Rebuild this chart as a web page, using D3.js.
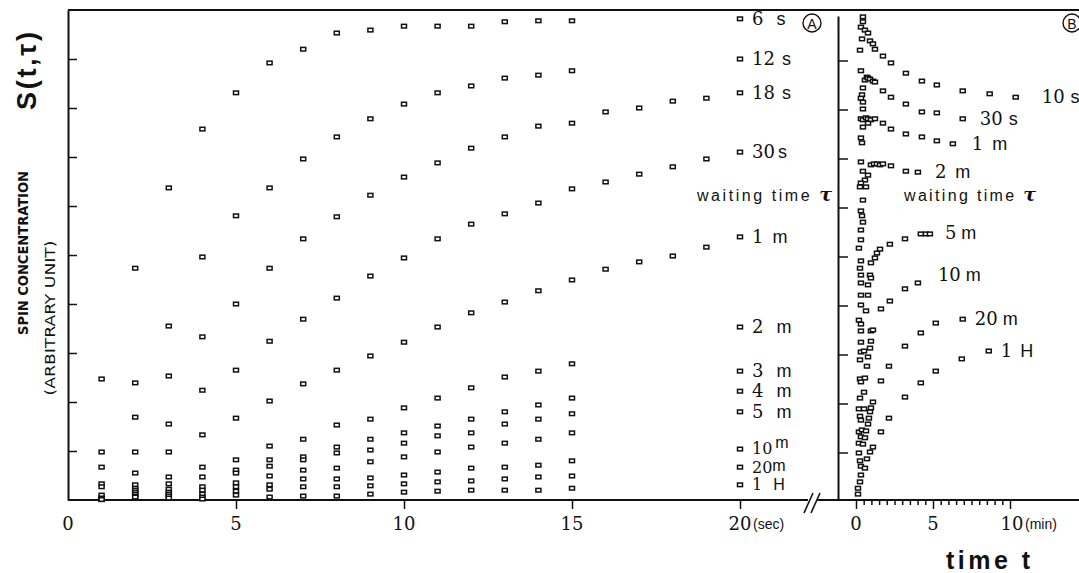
<!DOCTYPE html>
<html>
<head>
<meta charset="utf-8">
<script src="https://cdn.jsdelivr.net/npm/d3@7"></script>
<style>
  body { margin: 0; background: #fff; }
  svg { display: block; }
  .pt { fill: #fff; stroke: #111; stroke-width: 1.5; }
  .num { font-family: "DejaVu Serif", serif; fill: #111; }
  .unit { font-family: "Liberation Sans", Arial, sans-serif; fill: #111; }
</style>
</head>
<body>
<div id="chart"></div>
<script>
/**************************************************
 * Data – panel A (time in seconds, t = 1..20)
 **************************************************/
const secT = d3.range(1, 21);
const tauA = ["6 s", "12 s", "18 s", "30 s", "1 m", "2 m", "3 m", "4 m", "5 m", "10 m", "20 m", "1 H"];
const n4 = [null, null, null, null]; // no measurement between 16 and 19 s

const a6s  = [2.47, 4.73, 6.37, 7.57, 8.31, 8.92, 9.20, 9.53, 9.59, 9.67, 9.67, 9.67, 9.76, 9.78, 9.78, ...n4, 9.82];
const a12s = [0.98, 2.39, 3.55, 4.96, 5.80, 6.37, 6.96, 7.41, 7.78, 8.08, 8.31, 8.45, 8.61, 8.67, 8.76, ...n4, 9.00];
const a18s = [0.67, 1.69, 2.53, 3.33, 4.00, 4.73, 5.33, 5.78, 6.22, 6.59, 6.88, 7.18, 7.41, 7.63, 7.69, 7.92, 8.00, 8.14, 8.20, 8.31];
const a30s = [0.33, 0.98, 1.55, 2.24, 2.65, 3.24, 3.69, 4.12, 4.57, 4.94, 5.33, 5.63, 5.84, 6.06, 6.35, 6.49, 6.65, 6.80, 6.96, 7.10];
const a1m  = [0.27, 0.55, 0.98, 1.33, 1.67, 2.02, 2.37, 2.65, 2.94, 3.22, 3.53, 3.82, 4.04, 4.27, 4.49, 4.71, 4.86, 4.98, 5.16, 5.37];
const a2m  = [0.10, 0.31, 0.47, 0.67, 0.82, 1.10, 1.24, 1.53, 1.65, 1.88, 2.08, 2.29, 2.51, 2.63, 2.78, ...n4, 3.53];
const a3m  = [0.04, 0.24, 0.33, 0.47, 0.61, 0.82, 0.88, 1.08, 1.24, 1.37, 1.51, 1.65, 1.80, 1.94, 2.08, ...n4, 2.63];
const a4m  = [0.02, 0.20, 0.22, 0.27, 0.55, 0.69, 0.82, 0.96, 1.02, 1.16, 1.31, 1.37, 1.55, 1.65, 1.76, ...n4, 2.22];
const a5m  = [0.02, 0.16, 0.16, 0.20, 0.35, 0.49, 0.61, 0.65, 0.78, 0.88, 0.98, 1.08, 1.16, 1.24, 1.37, ...n4, 1.80];
const a10m = [0.01, 0.12, 0.12, 0.12, 0.27, 0.31, 0.43, 0.43, 0.45, 0.51, 0.57, 0.65, 0.67, 0.71, 0.80, ...n4, 1.04];
const a20m = [0.01, 0.08, 0.08, 0.06, 0.18, 0.22, 0.27, 0.27, 0.29, 0.33, 0.37, 0.39, 0.43, 0.47, 0.49, ...n4, 0.67];
const a1H  = [0.01, 0.06, 0.04, 0.02, 0.10, 0.06, 0.08, 0.08, 0.12, 0.16, 0.18, 0.20, 0.20, 0.20, 0.24, ...n4, 0.31];
const seriesA = [a6s, a12s, a18s, a30s, a1m, a2m, a3m, a4m, a5m, a10m, a20m, a1H];

/**************************************************
 * Data – panel B ([time in min, S])
 **************************************************/
const tauB = ["10 s", "30 s", "1 m", "2 m", "5 m", "10 m", "20 m", "1 H"];
const b10s = [[0.26, 9.18], [0.32, 9.65], [0.39, 9.41], [0.45, 9.76], [0.45, 9.86], [0.58, 9.59], [0.78, 9.53], [0.91, 9.37],
  [1.10, 9.31], [1.23, 9.20], [1.75, 9.06], [2.27, 8.92], [3.24, 8.71], [4.28, 8.55], [5.25, 8.47], [6.93, 8.35], [8.68, 8.29], [10.37, 8.22]];
const b30s = [[0.32, 8.76], [0.58, 8.57], [0.71, 8.63], [0.78, 8.61], [0.91, 8.59], [1.10, 8.55], [1.23, 8.53], [0.45, 8.41],
  [0.39, 8.27], [0.32, 8.20], [0.45, 8.12], [0.45, 7.98], [1.75, 8.35], [2.27, 8.22], [3.24, 8.08], [4.28, 7.92], [5.25, 7.90], [6.93, 7.78]];
const b1m = [[0.32, 7.78], [0.45, 7.76], [0.65, 7.80], [0.78, 7.78], [0.97, 7.76], [1.23, 7.78], [0.78, 7.69], [0.45, 7.61],
  [0.32, 7.39], [0.39, 7.29], [1.75, 7.69], [2.27, 7.57], [3.24, 7.47], [4.28, 7.41], [5.25, 7.33], [6.29, 7.27]];
const b2m = [[0.32, 6.90], [0.97, 6.84], [1.17, 6.86], [1.36, 6.86], [1.56, 6.84], [1.75, 6.86], [2.27, 6.82], [3.24, 6.71],
  [4.02, 6.69], [0.45, 6.71], [0.78, 6.63], [0.58, 6.53], [0.32, 6.47], [0.26, 6.39], [0.65, 6.39], [0.45, 6.12],
  [0.32, 5.90], [0.39, 5.80], [0.45, 5.67], [0.32, 5.51]];
const b5m = [[0.32, 5.31], [0.19, 5.14], [0.32, 4.88], [0.26, 4.73], [0.91, 4.59], [0.97, 4.53], [0.97, 4.84], [1.23, 4.94],
  [1.36, 5.04], [1.56, 5.12], [2.20, 5.22], [3.18, 5.33], [4.21, 5.43], [4.54, 5.43], [4.80, 5.43]];
const b10m = [[0.32, 4.59], [0.32, 4.43], [0.78, 4.39], [0.32, 4.18], [0.78, 4.18], [0.32, 3.98], [0.65, 3.86], [0.19, 3.67],
  [0.32, 3.59], [0.32, 3.45], [0.97, 3.45], [1.10, 3.47], [0.97, 3.24], [0.91, 3.10], [0.78, 2.92], [0.71, 2.73],
  [1.62, 3.90], [2.20, 4.06], [3.18, 4.31], [4.02, 4.43]];
const b20m = [[0.32, 3.22], [0.32, 3.02], [0.52, 3.04], [0.26, 2.86], [0.26, 2.47], [0.58, 2.49], [0.32, 2.41], [0.52, 2.20],
  [0.26, 2.08], [1.10, 2.00], [0.97, 1.88], [0.91, 1.80], [0.84, 1.67], [0.78, 1.55], [1.62, 2.43], [2.14, 2.73],
  [3.18, 3.14], [4.21, 3.41], [5.18, 3.61], [6.93, 3.69]];
const b1H = [[0.19, 1.86], [0.52, 1.86], [0.26, 1.71], [0.32, 1.63], [0.19, 1.39], [0.39, 1.43], [0.65, 1.41], [0.32, 1.29],
  [0.58, 1.27], [0.19, 1.16], [0.45, 1.14], [0.19, 0.96], [0.26, 0.80], [0.32, 0.69], [0.32, 0.51], [0.26, 0.37],
  [0.13, 0.24], [0.13, 0.12], [1.10, 1.08], [0.91, 0.98], [0.71, 0.84], [0.58, 0.65],
  [1.62, 1.39], [2.14, 1.67], [3.18, 2.10], [4.21, 2.39], [5.18, 2.63], [6.87, 2.88], [8.62, 3.04]];
const seriesB = [b10s, b30s, b1m, b2m, b5m, b10m, b20m, b1H];

/**************************************************
 * Layout
 **************************************************/
const W = 1079, H = 573;
const svg = d3.select("#chart").append("svg").attr("width", W).attr("height", H);

const xA = d3.scaleLinear().domain([0, 20]).range([68, 740]);
const xB = d3.scaleLinear().domain([0, 10]).range([856, 1010]);
const y = d3.scaleLinear().domain([0, 10]).range([500, 10]);
const yTicks = d3.range(1, 10);

const ink = "#111";
const line = (x1, y1, x2, y2, w) => svg.append("line")
  .attr("x1", x1).attr("y1", y1).attr("x2", x2).attr("y2", y2)
  .attr("stroke", ink).attr("stroke-width", w || 2);

// frame
line(68, 10, W, 10, 2);
line(xA(0), y(0), 808, y(0), 2);
line(817, y(0), W, y(0), 2);
line(804, 513, 813, 493, 1.6);
line(811, 513, 820, 493, 1.6);

// panel A axes
const yAxisA = svg.append("g").attr("transform", `translate(${xA(0)},0)`)
  .call(d3.axisRight(y).tickValues(yTicks).tickSize(9).tickFormat("").tickSizeOuter(0));
const xAxisA = svg.append("g").attr("transform", `translate(0,${y(0)})`)
  .call(d3.axisBottom(xA).tickValues([5, 10, 15, 20]).tickSize(9).tickFormat("").tickSizeOuter(0));

// panel B axes
const yAxisB = svg.append("g").attr("transform", "translate(838,0)")
  .call(d3.axisRight(y.copy().range([500, 16])).tickValues(yTicks).tickSize(10).tickFormat("").tickSizeOuter(0));
yAxisB.selectAll(".tick").attr("transform", d => `translate(0,${y(d) + 2})`);
const xAxisB = svg.append("g").attr("transform", `translate(0,${y(0)})`)
  .call(d3.axisBottom(xB).tickValues(d3.range(0, 10.01, 0.5)).tickSize(5).tickFormat("").tickSizeOuter(0));
xAxisB.selectAll(".tick line").attr("y2", d => (d % 5 === 0 ? 9 : 5));

[yAxisA, xAxisA, yAxisB, xAxisB].forEach(g => {
  g.select(".domain").attr("stroke", ink).attr("stroke-width", 2);
  g.selectAll(".tick line").attr("stroke", ink).attr("stroke-width", 1.5);
});
xAxisA.select(".domain").remove();
xAxisB.select(".domain").remove();

// tick labels
const tickLab = (x, txt, unit, ux) => {
  svg.append("text").attr("class", "num").attr("x", x).attr("y", 530)
    .attr("text-anchor", "middle").attr("font-size", 18).text(txt);
  if (unit) svg.append("text").attr("class", "unit").attr("x", ux).attr("y", 529)
    .attr("font-size", 14).text(unit);
};
[0, 5, 10, 15].forEach(v => tickLab(xA(v), v));
tickLab(xA(20), 20, "(sec)", xA(20) + 13);
[0, 5].forEach(v => tickLab(xB(v), v));
tickLab(xB(10) + 2, 10, "(min)", xB(10) + 15);

/**************************************************
 * Points
 **************************************************/
const pw = 5, ph = 3.6;
seriesA.forEach(vals => {
  svg.append("g").selectAll("rect")
    .data(vals.map((v, i) => [secT[i], v]).filter(d => d[1] !== null))
    .enter().append("rect").attr("class", "pt")
    .attr("x", d => xA(d[0]) - pw / 2).attr("y", d => y(d[1]) - ph / 2)
    .attr("width", pw).attr("height", ph);
});
seriesB.forEach(vals => {
  svg.append("g").selectAll("rect")
    .data(vals).enter().append("rect").attr("class", "pt")
    .attr("x", d => xB(d[0]) - pw / 2).attr("y", d => y(d[1]) - ph / 2)
    .attr("width", pw).attr("height", ph);
});

/**************************************************
 * Series labels
 **************************************************/
function tauLabel(x, yy, label, gap, size, rise) {
  const [num, unit] = label.split(" ");
  const t = svg.append("text").attr("x", x).attr("y", yy + size / 3).attr("font-size", size);
  t.append("tspan").attr("class", "num").text(num);
  t.append("tspan").attr("class", "unit").attr("dx", gap).attr("dy", rise || 0).text(unit);
}
const gapA = [13, 7, 7, 3, 9, 13, 13, 13, 13, 3, 0, 11];
const sizeA = [18, 18, 18, 18, 18, 18, 18, 18, 18, 16, 16, 16];
const riseA = [0, 0, 0, 0, 0, 0, 0, 0, 0, -6, -2, 0];
tauA.forEach((lab, i) => {
  const last = seriesA[i][19];
  tauLabel(xA(20) + 12, y(last), lab, gapA[i], sizeA[i], riseA[i]);
});

// panel B labels, placed after the last point of each series
const offB = [[26, 0], [17, 0], [19, 0], [17, 0], [15, -1], [20, -8], [12, 0], [12, 0]];
const gapB = [6, 6, 9, 9, 5, 5, 5, 8];
tauB.forEach((lab, i) => {
  const last = seriesB[i].reduce((a, b) => (b[0] > a[0] ? b : a));
  tauLabel(xB(last[0]) + offB[i][0], y(last[1]) + offB[i][1], lab, gapB[i], 18);
});

// "waiting time τ"
[[697, 832], [904, 1036]].forEach(([x0, x1]) => {
  const t = svg.append("text").attr("class", "unit").attr("x", x0).attr("y", 201).attr("font-size", 16)
    .attr("textLength", x1 - x0).attr("lengthAdjust", "spacing");
  t.append("tspan").text("waiting  time ");
  t.append("tspan").attr("font-family", "DejaVu Serif").attr("font-weight", "bold")
    .attr("font-style", "italic").attr("font-size", 19).text("τ");
});

// circled panel letters
[["A", 812], ["B", 1072]].forEach(([c, cx]) => {
  svg.append("circle").attr("cx", cx).attr("cy", 23).attr("r", 9)
    .attr("fill", "none").attr("stroke", ink).attr("stroke-width", 1.4);
  svg.append("text").attr("class", "unit").attr("x", cx).attr("y", 28.5)
    .attr("text-anchor", "middle").attr("font-size", 14).text(c);
});

/**************************************************
 * Axis titles
 **************************************************/
svg.append("text").attr("class", "unit").attr("x", 988).attr("y", 569)
  .attr("text-anchor", "middle").attr("font-size", 25).attr("font-weight", "bold")
  .attr("textLength", 84).text("time t");

svg.append("text").attr("transform", "translate(36,71) rotate(-90)")
  .attr("text-anchor", "middle").attr("font-size", 27).attr("font-weight", "bold")
  .attr("font-family", "Liberation Sans, Arial, sans-serif").attr("fill", ink)
  .attr("textLength", 78).text("S(t,τ)");

svg.append("text").attr("transform", "translate(28,253) rotate(-90)")
  .attr("text-anchor", "middle").attr("font-size", 14).attr("font-weight", "bold")
  .attr("font-family", "DejaVu Sans Condensed, DejaVu Sans, sans-serif").attr("fill", ink)
  .attr("textLength", 164).attr("lengthAdjust", "spacingAndGlyphs").text("SPIN CONCENTRATION");

svg.append("text").attr("transform", "translate(55,318) rotate(-90)")
  .attr("text-anchor", "middle").attr("font-size", 14)
  .attr("font-family", "DejaVu Sans Condensed, DejaVu Sans, sans-serif").attr("fill", ink)
  .attr("textLength", 155).attr("lengthAdjust", "spacingAndGlyphs").text("(ARBITRARY UNIT)");
</script>
</body>
</html>
